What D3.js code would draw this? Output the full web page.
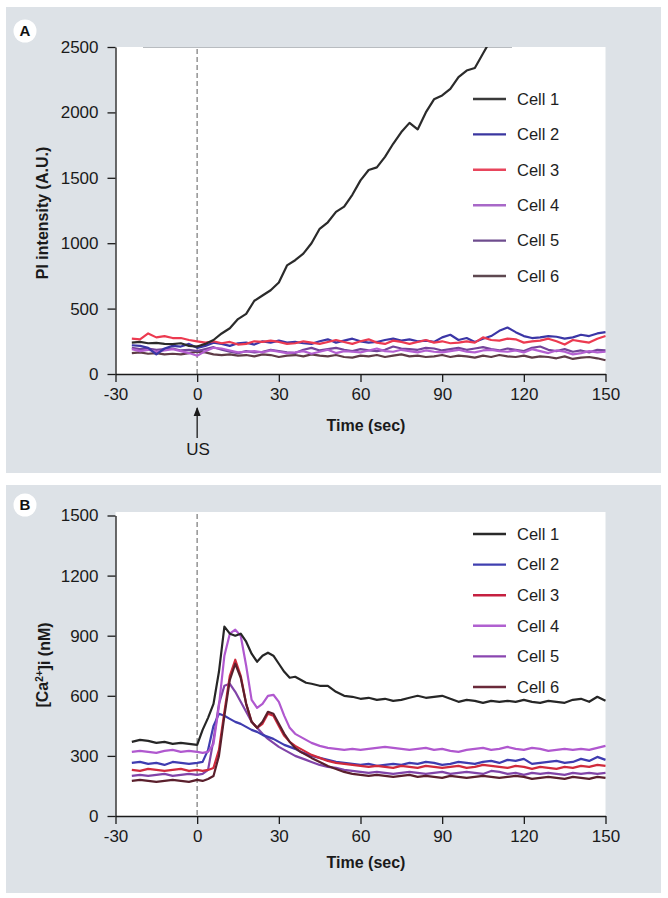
<!DOCTYPE html>
<html><head><meta charset="utf-8">
<script src="https://cdn.jsdelivr.net/npm/d3@7"></script>
<style>
html,body{margin:0;padding:0;background:#fff;}
svg{display:block;font-family:"Liberation Sans",Arial,sans-serif;}
</style></head>
<body>
<svg id="chart" width="668" height="898"></svg>
<script>
// ---------- DATA ----------
const cells = ["Cell 1","Cell 2","Cell 3","Cell 4","Cell 5","Cell 6"];
const xTicks = [-30,0,30,60,90,120,150];
const yTicksA = [0,500,1000,1500,2000,2500];
const yTicksB = [0,300,600,900,1200,1500];

// Panel A: PI intensity (A.U.), time step 3 s from -24 to 150
const timeA = [-24,-21,-18,-15,-12,-9,-6,-3,0,3,6,9,12,15,18,21,24,27,30,33,36,39,42,45,48,51,54,57,60,63,66,69,72,75,78,81,84,87,90,93,96,99,102,105,108,111,114,117,120,123,126,129,132,135,138,141,144,147,150];
const a_cell1 = [240,245,235,238,230,228,235,215,210,230,260,310,350,420,460,560,600,640,700,830,870,920,1000,1110,1160,1240,1280,1370,1480,1560,1580,1660,1760,1850,1920,1870,2000,2100,2130,2180,2270,2320,2340,2450,2560,null,null,null,null,null,null,null,null,null,null,null,null,null,null];
const a_cell2 = [220,215,200,150,195,215,210,230,200,215,240,230,215,235,240,225,250,240,255,240,245,235,230,250,265,240,255,270,250,240,245,260,270,255,265,250,255,245,280,300,260,275,245,270,290,330,355,320,290,275,280,290,285,270,280,300,290,310,320];
const a_cell3 = [270,265,310,280,290,275,275,260,250,240,250,235,245,225,230,250,245,255,245,230,235,250,240,230,245,260,245,230,250,265,240,230,255,245,230,245,260,240,250,235,240,250,240,280,260,255,270,265,240,250,255,270,250,225,260,250,240,270,290];
const a_cell4 = [190,175,185,170,180,190,175,160,140,175,200,195,180,165,170,175,165,180,170,160,165,175,155,170,185,160,175,170,165,180,195,175,170,185,175,165,180,170,165,175,185,170,165,180,185,175,170,180,165,190,175,160,180,170,150,160,175,165,170];
const a_cell5 = [200,190,195,185,190,195,180,185,175,190,205,185,170,160,175,165,170,185,175,165,160,185,200,180,190,200,185,175,190,180,175,185,210,195,190,185,200,195,180,190,200,185,195,205,190,180,195,185,175,200,210,185,175,190,170,180,165,185,180];
const a_cell6 = [160,165,155,160,150,155,150,160,170,165,150,145,150,140,145,135,150,145,130,140,145,135,150,140,135,145,130,125,140,135,145,130,140,150,135,140,130,135,145,130,140,135,125,140,130,145,135,130,140,125,135,130,120,135,115,125,130,120,105];

// Panel B: [Ca2+]i (nM)
const timeB = [-24,-21,-18,-15,-12,-9,-6,-3,0,2,4,6,8,10,12,14,16,18,20,22,24,26,28,30,32,34,36,38,40,42,45,48,51,54,57,60,63,66,69,72,75,78,81,84,87,90,93,96,99,102,105,108,111,114,117,120,123,126,129,132,135,138,141,144,147,150];
const b_cell1 = [370,380,375,365,370,360,365,360,355,430,490,560,720,945,910,900,910,870,810,770,800,815,800,760,720,690,695,680,665,660,650,650,620,600,595,585,590,580,585,575,580,590,600,590,595,600,585,570,580,575,565,575,570,575,570,580,570,565,575,570,565,580,585,570,595,575];
const b_cell2 = [265,270,260,265,255,270,265,260,265,270,330,450,510,500,485,470,460,445,430,420,405,395,385,370,355,345,335,320,310,300,290,280,270,265,260,255,260,250,255,260,255,265,260,270,265,255,260,270,265,260,270,275,265,280,275,285,260,265,270,275,265,270,285,275,295,280];
const b_cell3 = [230,225,235,230,225,230,235,225,230,225,230,240,330,520,700,780,700,560,470,440,460,510,500,450,400,370,350,335,320,305,290,275,265,260,255,250,245,250,245,240,250,245,240,250,245,240,245,250,240,245,255,250,245,240,250,245,235,245,240,235,245,240,250,245,255,250];
const b_cell4 = [320,325,320,315,325,330,320,325,320,315,320,360,550,800,910,930,900,750,580,540,560,600,605,570,500,440,410,395,380,365,350,340,335,330,335,330,335,340,345,340,335,330,335,340,330,335,325,320,330,335,340,330,335,345,335,330,340,335,325,330,335,330,335,330,340,350];
const b_cell5 = [200,205,200,205,210,200,205,210,205,210,230,380,560,650,660,620,570,520,470,440,410,385,365,345,330,315,300,290,280,270,255,245,240,230,225,220,215,220,215,210,215,220,215,210,215,220,210,215,220,215,210,225,220,210,215,205,215,210,215,210,205,215,210,215,210,215];
const b_cell6 = [175,180,175,170,175,180,175,170,180,175,185,200,300,500,680,760,690,560,470,440,470,520,510,460,410,370,340,320,305,290,270,250,235,220,210,205,200,205,200,195,200,205,195,200,195,190,200,195,190,195,200,195,190,195,200,195,185,190,195,190,185,195,190,185,195,190];

const colorsA = ["#2b2b2b","#3b36a6","#ec3a50","#b35fd0","#74449a","#5e3c46"];
const colorsB = ["#262626","#3f3cb0","#d02a3c","#b058cf","#8144a8","#5a1f2c"];
const legendColorsA = ["#3a3a3a","#3a36a0","#e8455c","#a868c8","#6e4c8e","#5e4850"];
const legendColorsB = ["#2a2a2a","#4040b0","#c52040","#b060d0","#8a46b0","#6a2a3a"];

// ---------- DRAW ----------
const svg = d3.select("#chart");
const bg = "#dde2e7";
const FONT = "Liberation Sans, Arial, sans-serif";
const fmt = d => String(d);

const x = d3.scaleLinear().domain([-30,150]).range([115.5,605.5]);

function panel(opts){
  const g = svg.append("g");
  g.append("rect").attr("x",6).attr("y",opts.bgTop).attr("width",655).attr("height",opts.bgH).attr("fill",bg);
  const y = d3.scaleLinear().domain([0,opts.ymax]).range([opts.y0,opts.y1]);
  g.append("rect").attr("x",x(-30)).attr("y",opts.whiteTop).attr("width",x(150)-x(-30)).attr("height",opts.y0-opts.whiteTop).attr("fill","#fff");
  if(opts.topLine){
    g.append("line").attr("x1",143).attr("x2",512).attr("y1",opts.whiteTop+0.5).attr("y2",opts.whiteTop+0.5).attr("stroke","#b8bcc0").attr("stroke-width",1);
  }
  const cid = "clip"+opts.id;
  svg.append("defs").append("clipPath").attr("id",cid).append("rect")
    .attr("x",x(-30)).attr("y",opts.whiteTop).attr("width",x(150)-x(-30)+4).attr("height",opts.y0-opts.whiteTop);
  g.append("line").attr("x1",x(0)).attr("x2",x(0)).attr("y1",opts.whiteTop+2).attr("y2",opts.y0)
    .attr("stroke","#9a9a9a").attr("stroke-width",1.6).attr("stroke-dasharray","5,3");
  const lg = g.append("g").attr("clip-path","url(#"+cid+")");
  opts.drawOrder.forEach(i=>{
    const vals = opts.series[i];
    const pts = opts.time.map((t,k)=>[t,vals[k]]);
    lg.append("path").datum(pts)
      .attr("fill","none").attr("stroke",opts.colors[i]).attr("stroke-width",2.2)
      .attr("stroke-linejoin","round")
      .attr("d",d3.line().defined(d=>d[1]!=null).x(d=>x(d[0])).y(d=>y(d[1])));
  });
  const ya = g.append("g").attr("transform","translate("+x(-30)+",0)")
    .call(d3.axisLeft(y).tickValues(opts.yTicks).tickFormat(fmt).tickSize(8).tickPadding(9).tickSizeOuter(0));
  const xa = g.append("g").attr("transform","translate(0,"+opts.y0+")")
    .call(d3.axisBottom(x).tickValues(xTicks).tickFormat(fmt).tickSize(8).tickPadding(6).tickSizeOuter(0));
  [ya,xa].forEach(a=>{
    a.selectAll("path.domain").attr("stroke","#1a1a1a").attr("stroke-width",1.3);
    a.selectAll("line").attr("stroke","#1a1a1a").attr("stroke-width",1.3);
    a.selectAll("text").attr("fill","#1a1a1a").style("font-size","17px").style("font-family",FONT);
  });
  cells.forEach((c,i)=>{
    const ly = opts.legY + i*opts.legStep;
    g.append("line").attr("x1",473).attr("x2",506).attr("y1",ly).attr("y2",ly)
      .attr("stroke",opts.legColors[i]).attr("stroke-width",2.4);
    g.append("text").attr("x",517).attr("y",ly).attr("dy","0.35em").text(c)
      .style("font-size","16.5px").style("font-family",FONT).attr("fill","#1e1e1e");
  });
  g.append("circle").attr("cx",25).attr("cy",opts.labY).attr("r",11.5).attr("fill","#fff");
  g.append("text").attr("x",25).attr("y",opts.labY).attr("dy","0.36em").attr("text-anchor","middle")
    .text(opts.label).style("font-size","15px").style("font-weight","bold").style("font-family",FONT).attr("fill","#111");
  g.append("text").attr("x",366).attr("y",opts.xTitleY).attr("text-anchor","middle").attr("dy","0.35em")
    .text("Time (sec)").style("font-size","16px").style("font-weight","bold").style("font-family",FONT).attr("fill","#1a1a1a");
  const yt = g.append("text").attr("transform","translate(42,"+opts.yTitleY+") rotate(-90)")
    .attr("text-anchor","middle").attr("dy","0.35em")
    .style("font-size","16px").style("font-weight","bold").style("font-family",FONT).attr("fill","#1a1a1a");
  opts.yTitle(yt);
  return {g,y};
}

panel({id:"A", bgTop:7, bgH:466, ymax:2500, y0:374, y1:47, whiteTop:47, topLine:true,
  yTicks:yTicksA, time:timeA, series:[a_cell1,a_cell2,a_cell3,a_cell4,a_cell5,a_cell6],
  colors:colorsA, legColors:legendColorsA, drawOrder:[5,4,3,1,2,0],
  legY:99, legStep:35.4, labY:31, label:"A", xTitleY:425, yTitleY:213,
  yTitle: t=>t.text("PI intensity (A.U.)")});

// US arrow
svg.append("defs").append("marker").attr("id","arr").attr("viewBox","0 0 10 10").attr("refX",9).attr("refY",5)
  .attr("markerWidth",7).attr("markerHeight",7).attr("orient","auto")
  .append("path").attr("d","M0,1 L10,5 L0,9 Z").attr("fill","#1a1a1a");
svg.append("line").attr("x1",x(0)).attr("x2",x(0)).attr("y1",438).attr("y2",408)
  .attr("stroke","#1a1a1a").attr("stroke-width",1.3).attr("marker-end","url(#arr)");
svg.append("text").attr("x",x(0)+1).attr("y",449).attr("dy","0.35em").attr("text-anchor","middle")
  .text("US").style("font-size","17px").style("font-family",FONT).attr("fill","#1a1a1a");

panel({id:"B", bgTop:485, bgH:408, ymax:1500, y0:816, y1:515.5, whiteTop:512, topLine:false,
  yTicks:yTicksB, time:timeB, series:[b_cell1,b_cell2,b_cell3,b_cell4,b_cell5,b_cell6],
  colors:colorsB, legColors:legendColorsB, drawOrder:[4,1,3,2,5,0],
  legY:534, legStep:30.6, labY:505, label:"B", xTitleY:862, yTitleY:665,
  yTitle: t=>{ t.append("tspan").text("[Ca");
               t.append("tspan").text("2+").attr("dy","-0.45em").style("font-size","10px");
               t.append("tspan").text("]i (nM)").attr("dy","0.45em"); }});
</script>
</body></html>
